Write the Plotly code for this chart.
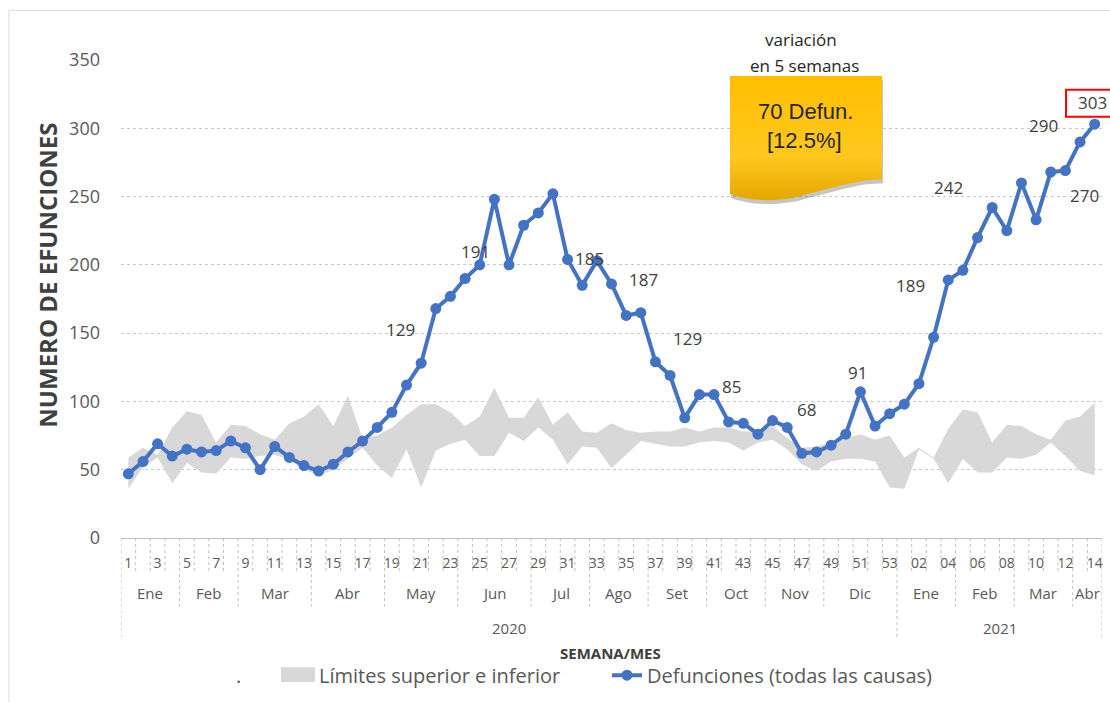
import plotly.graph_objects as go

# ---------------- data ----------------
week_labels = [str(w) for w in range(1, 54)] + [f"{w:02d}" for w in range(1, 15)]
month_names = ["Ene", "Feb", "Mar", "Abr", "May", "Jun", "Jul", "Ago", "Set", "Oct", "Nov", "Dic",
               "Ene", "Feb", "Mar", "Abr"]
month_weeks = [4, 4, 5, 5, 5, 5, 4, 4, 4, 4, 4, 5, 4, 4, 4, 2]
year_names = ["2020", "2021"]
year_weeks = [53, 14]

deaths = [47, 56, 69, 60, 65, 63, 64, 71, 66, 50,
          67, 59, 53, 49, 54, 63, 71, 81, 92, 112,
          128, 168, 177, 190, 200, 248, 200, 229, 238, 252,
          204, 185, 203, 186, 163, 165, 129, 119, 88, 105,
          105, 85, 84, 76, 86, 81, 62, 63, 68, 76,
          107, 82, 91, 98, 113, 147, 189, 196, 220, 242,
          225, 260, 233, 268, 269, 290, 303]

upper_limit = [59, 66, 61, 81, 93, 90, 70, 83, 82, 76,
               72, 84, 89, 98, 82, 104, 73, 75, 81, 90,
               98, 98, 92, 82, 89, 110, 88, 88, 103, 83,
               92, 78, 77, 84, 79, 77, 78, 78, 81, 78,
               81, 81, 78, 78, 82, 73, 66, 67, 70, 73,
               76, 72, 75, 59, 66, 59, 80, 94, 92, 70,
               83, 82, 76, 72, 86, 89, 99]

lower_limit = [36, 52, 59, 40, 55, 48, 47, 59, 58, 60,
               61, 57, 50, 46, 50, 58, 66, 53, 44, 65,
               37, 64, 69, 72, 60, 60, 77, 71, 81, 72,
               54, 67, 66, 51, 61, 71, 69, 67, 67, 70,
               71, 70, 64, 70, 72, 65, 54, 49, 56, 58,
               58, 56, 37, 36, 65, 58, 40, 58, 48, 48,
               59, 58, 61, 70, 60, 49, 46]

label_texts = ["129", "191", "185", "187", "129", "85", "68", "91", "189", "242", "290", "270"]
last_label = "303"

y_ticks = [0, 50, 100, 150, 200, 250, 300, 350]

# ---------------- geometry helpers ----------------
W, H = 1110, 702
ML, MR, MT, MB = 121, 8, 60, 161
PW, PH = W - ML - MR, H - MT - MB
XMIN, XMAX = -0.5, len(deaths) - 0.5
YMAX = 350


def px2paper(px):
    return (px - ML) / PW


def py2paper(py):
    return (H - MB - py) / PH


def px2x(px):
    return XMIN + (px - ML) / PW * (XMAX - XMIN)


def py2y(py):
    return (H - MB - py) / PH * YMAX


x = list(range(len(deaths)))
GRAY_TXT = "#595959"
FONT = "Open Sans"
BAND = "#D8D8D8"

fig = go.Figure()

# band (lower transparent + upper filled)
fig.add_trace(go.Scatter(x=x, y=lower_limit, mode="lines", name=".",
                         line=dict(width=0, color="rgba(0,0,0,0)"),
                         hoverinfo="skip", showlegend=True, legend="legend"))
fig.add_trace(go.Scatter(x=x, y=upper_limit, mode="lines", name="Límites superior e inferior",
                         fill="tonexty", fillcolor=BAND,
                         line=dict(width=0, color=BAND),
                         hoverinfo="skip", showlegend=True, legend="legend2"))
# deaths line
fig.add_trace(go.Scatter(x=x, y=deaths, mode="lines+markers",
                         name="Defunciones (todas las causas)",
                         line=dict(color="#4472C4", width=4),
                         marker=dict(color="#4472C4", size=11), legend="legend3"))


# ---------------- yellow callout box ----------------
def bez(p0, p1, p2, p3, n=30):
    pts = []
    for k in range(n + 1):
        t = k / n
        a, b, c, d = (1 - t) ** 3, 3 * (1 - t) ** 2 * t, 3 * (1 - t) * t ** 2, t ** 3
        pts.append((a * p0[0] + b * p1[0] + c * p2[0] + d * p3[0],
                    a * p0[1] + b * p1[1] + c * p2[1] + d * p3[1]))
    return pts


def box_path(dx=0, dy=0):
    pts = [(730, 76), (882, 76)] + bez((882, 180), (830, 180), (790, 215), (730, 195)) + [(730, 76)]
    return [px2x(p[0] + dx) for p in pts], [py2y(p[1] + dy) for p in pts]


sx, sy = box_path(1, 4)
fig.add_trace(go.Scatter(x=sx, y=sy, mode="lines", fill="toself",
                         fillcolor="rgba(90,90,90,0.35)", line=dict(width=0),
                         hoverinfo="skip", showlegend=False))
bx, by = box_path()
fig.add_trace(go.Scatter(x=bx, y=by, mode="lines", fill="toself",
                         fillgradient=dict(type="vertical",
                                           colorscale=[[0, "#E3A700"], [0.35, "#FFC81F"], [1, "#FFBF00"]]),
                         line=dict(width=0),
                         hoverinfo="skip", showlegend=False))

annotations = []
shapes = []


def ptext(text, px, py, size, color="#262626", family=FONT, **kw):
    d = dict(text=text, x=px2paper(px), y=py2paper(py), xref="paper", yref="paper",
             xanchor="center", yanchor="middle", showarrow=False,
             font=dict(family=family, size=size, color=color))
    d.update(kw)
    annotations.append(d)


# box texts
ptext("70 Defun.", 805, 112, 22, family="Liberation Sans")
ptext("[12.5%]", 804, 141, 22, family="Liberation Sans")
ptext("variación", 801, 39, 17)
ptext("en 5 semanas", 804, 66, 17)

# data labels
label_pos = [(18.6, 152.8), (23.7, 209.6), (31.5, 204.8), (35.2, 189.0), (38.2, 146.3), (41.2, 110.6),
             (46.3, 94.0), (49.8, 121.4), (53.4, 185.0), (56.0, 256.9), (62.5, 302.3), (65.3, 250.8)]
for t, (lx, ly) in zip(label_texts, label_pos):
    annotations.append(dict(text=t, x=lx, y=ly, xref="x", yref="y", showarrow=False,
                            xanchor="center", yanchor="middle",
                            font=dict(family=FONT, size=17, color="#404040")))
ptext(last_label, 1092, 103, 17, color="#404040")
shapes.append(dict(type="rect", xref="paper", yref="paper", x0=px2paper(1066), x1=px2paper(1120),
                   y0=py2paper(117), y1=py2paper(90), line=dict(color="#FF0000", width=2)))

# axis titles
ptext("<b>NUMERO DE EFUNCIONES</b>", 48, 277, 24, color="#404040", textangle=-90)
ptext("<b>SEMANA/MES</b>", 610, 657, 15, color="#404040")

# multi-level x axis separators and labels
month_bounds = [XMIN]
for n in month_weeks:
    month_bounds.append(month_bounds[-1] + n)
year_bounds = [XMIN]
for n in year_weeks:
    year_bounds.append(year_bounds[-1] + n)

sep_style = dict(color="#BFBFBF", width=1, dash="dot")
for k in range(len(deaths) + 1):
    b = XMIN + k
    if b in year_bounds:
        yb = py2paper(643)
    elif b in month_bounds:
        yb = py2paper(610)
    else:
        yb = py2paper(575)
    shapes.append(dict(type="line", xref="x", yref="paper", x0=b, x1=b, y0=0, y1=yb, line=sep_style))

for i, name in enumerate(month_names):
    cx = (month_bounds[i] + month_bounds[i + 1]) / 2
    annotations.append(dict(text=name, x=cx, y=py2paper(596), xref="x", yref="paper", showarrow=False,
                            xanchor="center", yanchor="middle",
                            font=dict(family=FONT, size=15, color=GRAY_TXT)))
for i, name in enumerate(year_names):
    cx = (year_bounds[i] + year_bounds[i + 1]) / 2
    annotations.append(dict(text=name, x=cx, y=py2paper(632), xref="x", yref="paper", showarrow=False,
                            xanchor="center", yanchor="middle",
                            font=dict(family=FONT, size=15, color=GRAY_TXT)))

# chart border
shapes.append(dict(type="rect", xref="paper", yref="paper", x0=px2paper(9), x1=px2paper(1118),
                   y0=py2paper(708), y1=py2paper(10), line=dict(color="#D9D9D9", width=1), layer="below"))
# larger swatch behind the band's legend symbol (Excel-style patch)
shapes.append(dict(type="rect", xref="paper", yref="paper", x0=px2paper(281), x1=px2paper(315),
                   y0=py2paper(686), y1=py2paper(671), fillcolor=BAND, line=dict(width=0), layer="above"))


def legend_at(px):
    return dict(orientation="h", x=px2paper(px), xanchor="left", y=py2paper(679), yanchor="middle",
                font=dict(family=FONT, size=20, color=GRAY_TXT), bgcolor="rgba(0,0,0,0)")


fig.update_layout(
    width=W, height=H,
    margin=dict(l=ML, r=MR, t=MT, b=MB),
    paper_bgcolor="white", plot_bgcolor="white",
    font=dict(family=FONT, color=GRAY_TXT),
    xaxis=dict(range=[XMIN, XMAX], tickmode="array", tickvals=x[::2], ticktext=week_labels[::2],
               showgrid=False, zeroline=False, showline=True, linecolor="#BFBFBF", linewidth=1,
               ticks="", ticklabelstandoff=12, tickfont=dict(size=14, color=GRAY_TXT)),
    yaxis=dict(range=[0, YMAX], tickmode="array", tickvals=y_ticks, showgrid=True,
               gridcolor="#C8C8C8", griddash="dot", gridwidth=1, zeroline=False,
               ticks="", ticklabelstandoff=20, tickfont=dict(size=18, color=GRAY_TXT)),
    legend=legend_at(196),
    legend2=legend_at(279),
    legend3=legend_at(607),
    annotations=annotations,
    shapes=shapes,
    hovermode=False,
)

fig.write_html("out.html", config={"displayModeBar": False},
               post_script="document.body.style.margin='0px';")
